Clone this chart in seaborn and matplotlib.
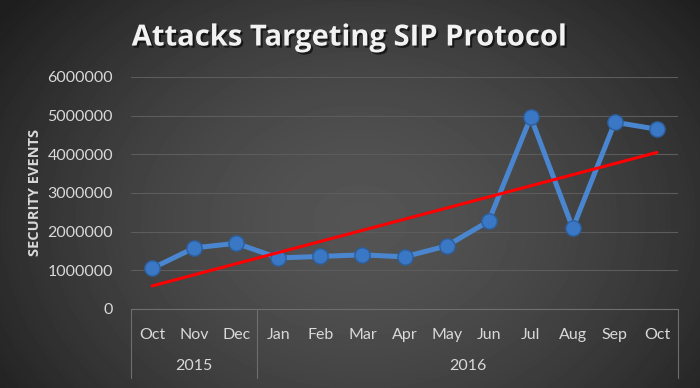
#!/usr/bin/env python3
"""Attacks targeting SIP protocol - monthly security events with a linear trend."""

import numpy as np
import pandas as pd
import matplotlib
matplotlib.use("Agg")
import matplotlib.pyplot as plt
import matplotlib.patheffects as pe
import seaborn as sns

# data
months = ["Oct", "Nov", "Dec", "Jan", "Feb", "Mar", "Apr", "May", "Jun", "Jul", "Aug", "Sep", "Oct"]
years = ["2015", "2016"]
year_counts = [3, 10]
events = [1050000, 1580000, 1700000, 1320000, 1360000, 1400000, 1350000,
          1630000, 2270000, 4960000, 2090000, 4830000, 4650000]
y_ticks = [0, 1000000, 2000000, 3000000, 4000000, 5000000, 6000000]

df = pd.DataFrame({"idx": np.arange(len(months)), "month": months, "events": events})

sns.set_style("dark")
plt.rcParams["font.family"] = ["Lato", "DejaVu Sans"]

W, H = 700, 388
fig = plt.figure(figsize=(W / 100, H / 100), dpi=100)

# radial dark-gray background
bg = fig.add_axes([0, 0, 1, 1])
yy, xx = np.mgrid[0:H, 0:W]
r = np.sqrt(((xx - 360) / 430.0) ** 2 + ((yy - 220) / 330.0) ** 2)
shade = np.clip(0.33 - 0.2 * r ** 1.6, 0.12, 0.33)
bg.imshow(shade, cmap="gray", vmin=0, vmax=1, aspect="auto", extent=[0, 1, 0, 1])
bg.axis("off")

ax = fig.add_axes([131 / W, 1 - 309 / H, 547 / W, 232 / H])
ax.set_facecolor("none")

sns.lineplot(data=df, x="idx", y="events", ax=ax, color="#4a86cf", linewidth=3.6,
             marker="o", markersize=11, markerfacecolor="#3a78c6",
             markeredgecolor="#2c5f9e", markeredgewidth=1.0, zorder=3)
sns.regplot(data=df, x="idx", y="events", ax=ax, scatter=False, ci=None,
            line_kws=dict(color="#ff0000", linewidth=2.2, zorder=4))

ax.set_xlim(-0.5, len(months) - 0.5)
ax.set_ylim(0, 6000000)
ax.set_yticks(y_ticks, [str(v) for v in y_ticks])
ax.set_xticks(df["idx"], months)
ax.tick_params(axis="both", length=0, colors="#d9d9d9", labelsize=11.5)
ax.tick_params(axis="y", pad=13)
ax.tick_params(axis="x", pad=14)
ax.grid(axis="y", color="#5c5c5c", linewidth=0.8)
ax.grid(axis="x", visible=False)
for side in ["top", "right", "left"]:
    ax.spines[side].set_visible(False)
ax.spines["bottom"].set_color("#6e6e6e")
ax.spines["bottom"].set_linewidth(0.8)

ax.set_xlabel("")
ax.set_ylabel("SECURITY EVENTS", color="#d9d9d9", fontsize=10.5, fontweight="bold",
              family=["Open Sans", "DejaVu Sans"])
ax.yaxis.set_label_coords(-0.163, 0.5)

# second level of the category axis: years and separators
trans = ax.get_xaxis_transform()
start = 0
bounds = [-0.5]
for yr, n in zip(years, year_counts):
    center = start + (n - 1) / 2
    ax.text(center, -0.245, yr, transform=trans, ha="center", va="center",
            color="#d9d9d9", fontsize=11.5)
    start += n
    bounds.append(start - 0.5)
for b in bounds:
    ax.plot([b, b], [0, -0.297], transform=trans, color="#6e6e6e",
            linewidth=0.8, clip_on=False)

fig.text(0.4986, 0.902, "Attacks Targeting SIP Protocol", ha="center", va="center",
         color="#f2f2f2", fontsize=21, fontweight="bold", family=["Open Sans", "DejaVu Sans"],
         path_effects=[pe.withSimplePatchShadow(offset=(1.5, -1.5), shadow_rgbFace="black", alpha=0.6)])

fig.savefig("out.png", dpi=100)
